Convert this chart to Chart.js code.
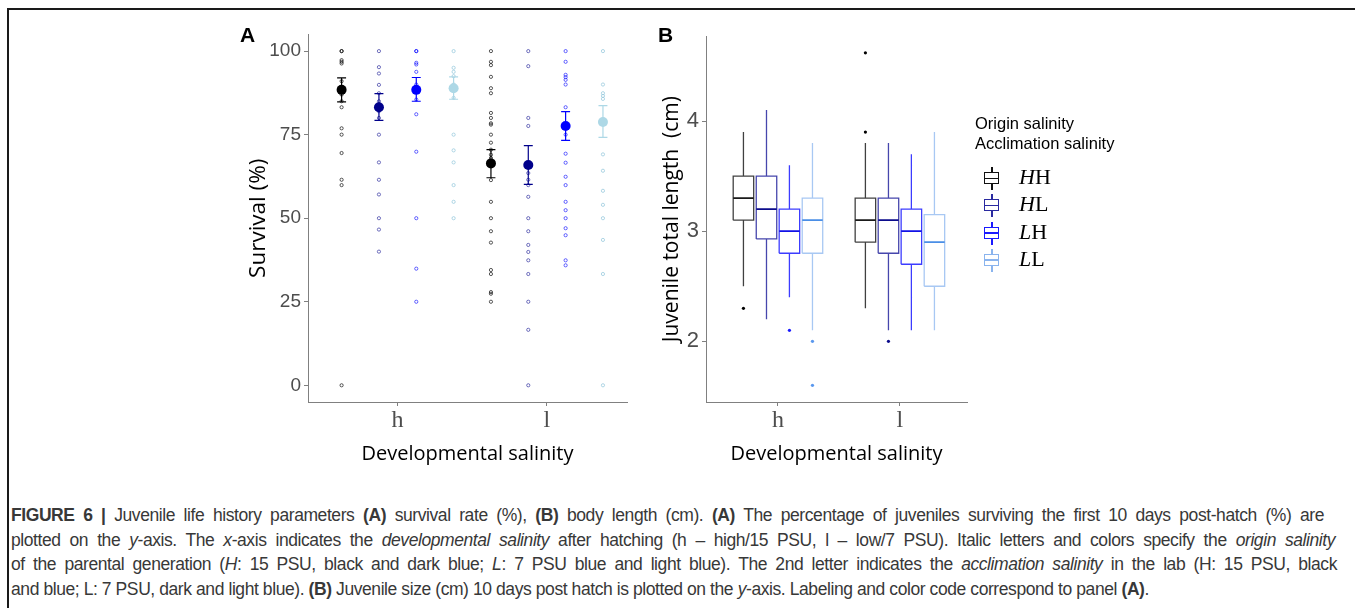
<!DOCTYPE html>
<html>
<head>
<meta charset="utf-8">
<script src="https://cdn.jsdelivr.net/npm/chart.js@4.4.0/dist/chart.umd.min.js"></script>
<style>
  body { margin: 0; width: 1355px; height: 608px; background: #fff; position: relative; overflow: hidden; font-family: 'Liberation Sans', Arial, sans-serif; }
  #frame { position: absolute; left: 7px; top: 8px; right: -4px; bottom: -4px; border-top: 2px solid #1a1a1a; border-left: 2px solid #1a1a1a; }
  canvas { position: absolute; }
  #cA { left: 240px; top: 20px; }
  #cB { left: 657px; top: 20px; }
  .plab { position: absolute; font-weight: bold; font-size: 21px; color: #000; }
  #legend { position: absolute; left: 975px; top: 113px; }
  #legend .ttl { font-size: 16.5px; line-height: 20px; color: #000; }
  .row { position: absolute; left: 9px; height: 22px; width: 140px; }
  .glyph { position: absolute; left: 0; top: 0; width: 16px; height: 23px; }
  .glyph .wh { position: absolute; left: 7px; top: 0; width: 1.5px; height: 23px; }
  .glyph .bx { position: absolute; left: 0; top: 5px; width: 13px; height: 10px; border: 1.5px solid; background: #fff; }
  .glyph .md { position: absolute; left: 0; top: 4.5px; width: 13px; height: 1.5px; }
  .row .lab { position: absolute; left: 35px; top: -3px; font-family: 'Liberation Serif', 'DejaVu Serif', serif; font-size: 22px; color: #000; white-space: nowrap; }
  #caption { position: absolute; left: 11px; top: 503px; font-family: 'Liberation Sans Narrow', 'Liberation Sans', sans-serif; font-size: 17.5px; line-height: 24.6px; color: #383838; letter-spacing: -0.42px; }
  #caption div { white-space: nowrap; }
</style>
</head>
<body>
<div id="frame"></div>
<canvas id="cA" width="400" height="450"></canvas>
<canvas id="cB" width="320" height="450"></canvas>
<div class="plab" style="left:240px; top:23px;">A</div>
<div class="plab" style="left:658px; top:23px;">B</div>

<div id="legend">
  <div class="ttl">Origin salinity</div>
  <div class="ttl">Acclimation salinity</div>
</div>

<div id="caption">
  <div data-w="1313"><b>FIGURE 6 |</b> Juvenile life history parameters <b>(A)</b> survival rate (%), <b>(B)</b> body length (cm). <b>(A)</b> The percentage of juveniles surviving the first 10 days post-hatch (%) are</div>
  <div data-w="1324">plotted on the <i>y</i>-axis. The <i>x</i>-axis indicates the <i>developmental salinity</i> after hatching (h – high/15 PSU, l – low/7 PSU). Italic letters and colors specify the <i>origin salinity</i></div>
  <div data-w="1326">of the parental generation (<i>H</i>: 15 PSU, black and dark blue; <i>L</i>: 7 PSU blue and light blue). The 2nd letter indicates the <i>acclimation salinity</i> in the lab (H: 15 PSU, black</div>
  <div>and blue; L: 7 PSU, dark and light blue). <b>(B)</b> Juvenile size (cm) 10 days post hatch is plotted on the <i>y</i>-axis. Labeling and color code correspond to panel <b>(A)</b>.</div>
</div>

<script>
// categories
const salinity = ['h', 'l'];
const groupNames = ['HH', 'HL', 'LH', 'LL'];

// panel A: survival (%) per replicate, [h, l] for each group
const survHH = [[100, 100, 97.3, 96.8, 96.3, 91, 87, 85, 83.2, 76.9, 75, 69.5, 61.5, 59.9, 0],
                [100, 96.8, 95.8, 92.3, 88.9, 87.4, 81.5, 80, 78.4, 78, 75, 72.6, 70.5, 69, 68, 61.4, 54.9, 50, 46.1, 42.7, 34.5, 33.3, 27.9, 27.4, 25]];
const survHL = [[100, 95.2, 93.3, 89.9, 87.4, 85, 82, 80, 75, 66.7, 61.5, 57.1, 50, 46.6, 40],
                [100, 95.5, 80, 77.6, 63.5, 61.5, 59.9, 56.4, 50, 46.1, 42, 39.9, 37.4, 33.3, 25, 16.6, 0]];
const survLH = [[100, 100, 96.5, 96, 93.8, 90, 85.5, 81.1, 69.9, 50, 34.9, 25],
                [100, 96.8, 92.9, 92.2, 91.4, 90, 83.2, 78, 75, 69.3, 66.6, 62.4, 59.9, 54.9, 52.4, 50, 47, 44.9, 37.4, 35.9]];
const survLL = [[100, 95, 93.8, 92.5, 90, 86, 75, 70.3, 66.7, 59.9, 54.9, 50],
                [100, 90, 87.4, 86.6, 85.7, 69.1, 64.2, 58.2, 54, 50, 43.5, 33.3, 0]];
// means and error bar ends, rows h / l, columns HH HL LH LL
const survMean = [[88.4, 83.2, 88.4, 88.9], [66.4, 65.9, 77.6, 78.8]];
const survLow  = [[84.8, 79.3, 85.0, 85.6], [62.1, 60.1, 73.3, 74.2]];
const survHigh = [[92.0, 87.3, 92.1, 92.3], [70.5, 71.7, 81.9, 83.7]];
const survTicks = [0, 25, 50, 75, 100];

// panel B: juvenile length (cm), [min, q1, median, q3, max] for h and l
const lenHH = [[2.5, 3.1, 3.3, 3.5, 3.9], [2.3, 2.9, 3.1, 3.3, 3.8]];
const lenHL = [[2.2, 2.93, 3.2, 3.5, 4.1], [2.1, 2.8, 3.1, 3.3, 3.8]];
const lenLH = [[2.4, 2.8, 3.0, 3.2, 3.6], [2.1, 2.7, 3.0, 3.2, 3.7]];
const lenLL = [[2.1, 2.8, 3.1, 3.3, 3.8], [2.1, 2.5, 2.9, 3.15, 3.9]];
const outHH = [[2.3], [3.9, 4.62]];
const outHL = [[], [2.0]];
const outLH = [[2.1], []];
const outLL = [[2.0, 1.6], []];
const lenTicks = [2, 3, 4];

const survAll = [survHH, survHL, survLH, survLL];
const lenAll = [lenHH, lenHL, lenLH, lenLL];
const outAll = [outHH, outHL, outLH, outLL];

// styling
const meanColors = ['#000000', '#00008b', '#0000ff', '#add8e6'];
const rawColors = ['rgba(0,0,0,0.65)', 'rgba(0,0,139,0.55)', 'rgba(0,0,255,0.6)', 'rgba(150,200,220,0.75)'];
const boxColors = ['#404040', '#4646ac', '#3c3cff', '#a8c8f3'];
const medColors = ['#1a1a1a', '#0c0c8c', '#1212e6', '#4a8ee6'];
const outColors = ['#000000', '#0c0c8c', '#1a1aff', '#5a98ee'];
const legColors = ['#111111', '#2a2aa0', '#1a1aff', '#8ab4ee'];
const offA = [-0.375, -0.125, 0.125, 0.375];
const offB = [-0.283, -0.094, 0.094, 0.283];
const capA = 0.03;
const halfBox = 0.084;

const axisGrey = '#808080';
const tickGrey = '#4d4d4d';

function xAxis(min, max) {
  return {
    type: 'linear', min: min, max: max,
    afterFit: s => { s.height = 68; },
    afterBuildTicks: s => { s.ticks = salinity.map((c, i) => ({ value: i + 1 })); },
    ticks: { autoSkip: false, maxRotation: 0, padding: 0, color: tickGrey,
             font: { family: 'Liberation Serif', size: 24 },
             callback: v => salinity[v - 1] },
    grid: { drawOnChartArea: false, tickLength: 4, color: axisGrey },
    border: { color: axisGrey, width: 1 },
    title: { display: true, text: 'Developmental salinity', color: '#000',
             font: { family: 'Open Sans', size: 20 }, padding: { top: 0, bottom: 4 } }
  };
}

// ---- panel A: survival ----
const dsA = [];
groupNames.forEach((g, gi) => {
  const raw = [];
  survAll[gi].forEach((vals, li) => vals.forEach(v => raw.push({ x: li + 1 + offA[gi], y: v })));
  dsA.push({ data: raw, pointRadius: 1.6, pointBorderWidth: 1, pointBackgroundColor: 'rgba(255,255,255,0)',
             pointBorderColor: rawColors[gi], order: 3 });

  const bars = [];
  salinity.forEach((s, li) => {
    const x = li + 1 + offA[gi];
    const lo = survLow[li][gi], hi = survHigh[li][gi];
    bars.push({ x: x, y: lo }, { x: x, y: hi }, { x: x, y: null });
    bars.push({ x: x - capA, y: lo }, { x: x + capA, y: lo }, { x: x, y: null });
    bars.push({ x: x - capA, y: hi }, { x: x + capA, y: hi }, { x: x, y: null });
  });
  dsA.push({ data: bars, showLine: true, pointRadius: 0, borderColor: meanColors[gi], borderWidth: 1.2, order: 2 });

  const means = salinity.map((s, li) => ({ x: li + 1 + offA[gi], y: survMean[li][gi] }));
  dsA.push({ data: means, pointRadius: 5, pointBorderWidth: 0, pointBackgroundColor: meanColors[gi], order: 1 });
});

new Chart(document.getElementById('cA'), {
  type: 'scatter',
  data: { datasets: dsA },
  options: {
    responsive: false, animation: false, events: [],
    layout: { padding: { top: 8, right: 13, left: 0, bottom: 0 } },
    plugins: { legend: { display: false }, tooltip: { enabled: false } },
    scales: {
      x: xAxis(0.4, 2.536),
      y: {
        min: -5, max: 105,
        afterFit: s => { s.width = 68; },
        afterBuildTicks: s => { s.ticks = survTicks.map(v => ({ value: v })); },
        ticks: { color: tickGrey, padding: 3, font: { family: 'Liberation Sans', size: 19 } },
        grid: { drawOnChartArea: false, tickLength: 4, color: axisGrey },
        border: { color: axisGrey, width: 1 },
        title: { display: true, text: 'Survival (%)', color: '#000',
                 font: { family: 'Open Sans', size: 22.5 }, padding: { top: 5, bottom: 0 } }
      }
    }
  }
});

// ---- panel B: length boxplots ----
const dsB = [];
groupNames.forEach((g, gi) => {
  const lines = [], meds = [], outs = [];
  salinity.forEach((s, li) => {
    const x = li + 1 + offB[gi];
    const [mn, q1, md, q3, mx] = lenAll[gi][li];
    lines.push({ x: x - halfBox, y: q1 }, { x: x + halfBox, y: q1 }, { x: x + halfBox, y: q3 },
               { x: x - halfBox, y: q3 }, { x: x - halfBox, y: q1 }, { x: x, y: null });
    lines.push({ x: x, y: q3 }, { x: x, y: mx }, { x: x, y: null });
    lines.push({ x: x, y: q1 }, { x: x, y: mn }, { x: x, y: null });
    meds.push({ x: x - halfBox, y: md }, { x: x + halfBox, y: md }, { x: x, y: null });
    outAll[gi][li].forEach(v => outs.push({ x: x, y: v }));
  });
  dsB.push({ data: lines, showLine: true, pointRadius: 0, borderColor: boxColors[gi], borderWidth: 1.3, order: 2 });
  dsB.push({ data: meds, showLine: true, pointRadius: 0, borderColor: medColors[gi], borderWidth: 1.8, order: 1 });
  dsB.push({ data: outs, pointRadius: 1.6, pointBorderWidth: 0, pointBackgroundColor: outColors[gi], order: 1 });
});

new Chart(document.getElementById('cB'), {
  type: 'scatter',
  data: { datasets: dsB },
  options: {
    responsive: false, animation: false, events: [],
    layout: { padding: { top: 8, right: 10, left: 0, bottom: 0 } },
    plugins: { legend: { display: false }, tooltip: { enabled: false } },
    scales: {
      x: xAxis(0.41, 2.55),
      y: {
        min: 1.449, max: 4.771,
        afterFit: s => { s.width = 49; },
        afterBuildTicks: s => { s.ticks = lenTicks.map(v => ({ value: v })); },
        ticks: { color: tickGrey, padding: 3, font: { family: 'Liberation Sans', size: 22 } },
        grid: { drawOnChartArea: false, tickLength: 4, color: axisGrey },
        border: { color: axisGrey, width: 1 },
        title: { display: true, text: 'Juvenile total length  (cm)', color: '#000',
                 font: { family: 'Open Sans', size: 21 }, padding: { top: 2, bottom: 0 } }
      }
    }
  }
});

// ---- legend for panel B ----
const legend = document.getElementById('legend');
groupNames.forEach((g, gi) => {
  const row = document.createElement('div');
  row.className = 'row';
  row.style.top = (54 + gi * 27.3) + 'px';
  const c = legColors[gi];
  row.innerHTML =
    '<div class="glyph"><div class="wh" style="background:' + c + '"></div>' +
    '<div class="bx" style="border-color:' + c + '"><div class="md" style="background:' + c + '"></div></div></div>' +
    '<div class="lab"><i>' + g[0] + '</i>' + g[1] + '</div>';
  legend.appendChild(row);
});

// ---- justify caption lines to their measured widths ----
document.querySelectorAll('#caption div[data-w]').forEach(d => {
  const target = parseFloat(d.dataset.w);
  const r = document.createRange();
  r.selectNodeContents(d);
  const w = r.getBoundingClientRect().width;
  const spaces = (d.textContent.match(/ /g) || []).length;
  d.style.wordSpacing = ((target - w) / spaces) + 'px';
});
</script>
</body>
</html>
